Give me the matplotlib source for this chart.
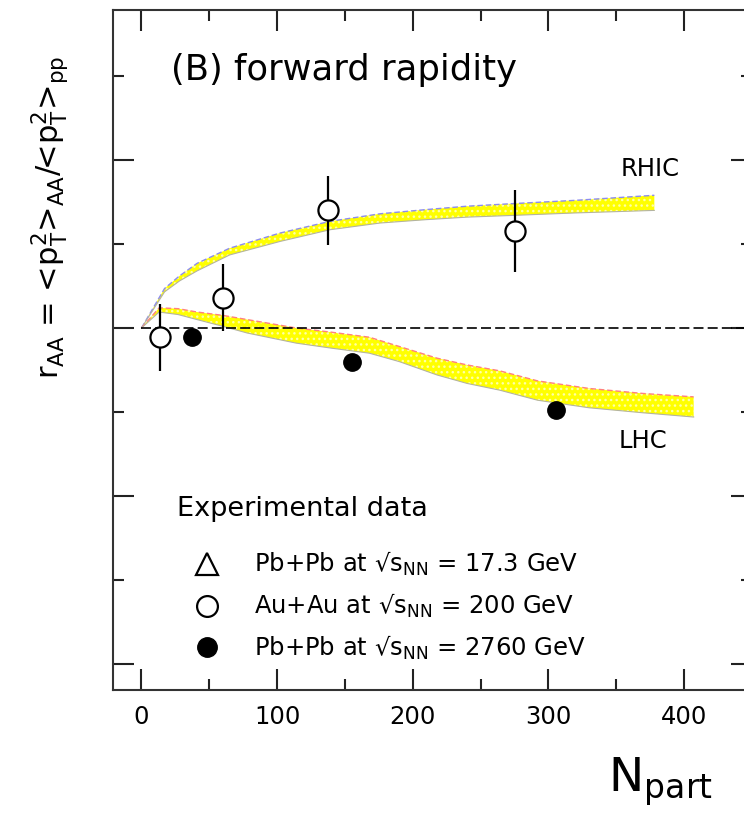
import matplotlib
matplotlib.use("Agg")
import matplotlib.pyplot as plt
from matplotlib.lines import Line2D
from matplotlib.ticker import MultipleLocator

plt.rcParams['font.family'] = ['DejaVu Sans']
plt.rcParams['mathtext.fontset'] = 'dejavusans'
plt.rcParams['hatch.linewidth'] = 1.0

# ---------------- data ----------------
# RHIC theory band
rhic_npart = [0, 17, 28, 41, 65, 102, 139, 176, 210, 240, 273, 320, 378]
rhic_upper = [1.0, 1.047, 1.062, 1.077, 1.095, 1.113, 1.127, 1.136, 1.141, 1.145, 1.148, 1.152, 1.158]
rhic_lower = [1.0, 1.043, 1.056, 1.068, 1.087, 1.103, 1.117, 1.125, 1.129, 1.132, 1.134, 1.137, 1.140]

# LHC theory band
lhc_npart = [0, 13, 27, 41, 60, 78, 96, 114, 140, 168, 190, 218, 240, 264, 292, 330, 370, 407]
lhc_upper = [1.0, 1.024, 1.023, 1.019, 1.015, 1.010, 1.005, 1.000, 0.995, 0.989, 0.978, 0.964,
             0.956, 0.949, 0.937, 0.928, 0.922, 0.918]
lhc_lower = [1.0, 1.019, 1.016, 1.010, 1.002, 0.994, 0.988, 0.982, 0.976, 0.970, 0.960, 0.944,
             0.934, 0.926, 0.914, 0.905, 0.899, 0.894]

# Au+Au 200 GeV (open circles)
auau_npart = [13.5, 60.3, 137.8, 275.2]
auau_raa = [0.989, 1.036, 1.140, 1.1155]
auau_err = [0.040, 0.040, 0.041, 0.049]

# Pb+Pb 2760 GeV (filled circles)
pbpb_npart = [36.9, 155.1, 305.2]
pbpb_raa = [0.989, 0.959, 0.902]

ref_level = 1.0
xticks_major = [0, 100, 200, 300, 400]
legend_labels = [
    r'Pb+Pb at √s$_{\mathregular{NN}}$ = 17.3 GeV',
    r'Au+Au at √s$_{\mathregular{NN}}$ = 200 GeV',
    r'Pb+Pb at √s$_{\mathregular{NN}}$ = 2760 GeV',
]

# ---------------- figure ----------------
W, H = 744, 819
fig = plt.figure(figsize=(W / 100, H / 100), dpi=100)
ax = fig.add_axes([113 / W, 1 - 690 / H, 639 / W, 680 / H])
ax.set_xlim(-21, 450)
ax.set_ylim(0.569, 1.3786)

# bands
for npart, lo, hi, edge in [(rhic_npart, rhic_lower, rhic_upper, '#8c8cf0'),
                            (lhc_npart, lhc_lower, lhc_upper, '#ff8080')]:
    ax.fill_between(npart, lo, hi, facecolor='#ffff00',
                    edgecolor='#ffffa8', hatch='...', linewidth=0, zorder=2)
    ax.plot(npart, hi, color=edge, lw=1.0, ls=(0, (4, 2)), zorder=3)
    ax.plot(npart, lo, color='#b4b4a0', lw=0.8, zorder=3)

# reference dashed line
ax.hlines(ref_level, 0, ax.get_xlim()[1], colors='black', linestyles=(0, (6, 2.5)),
          lw=1.2, zorder=4)

# data
ax.errorbar(auau_npart, auau_raa, yerr=auau_err, fmt='o', ms=14.5, mfc='white',
            mec='black', mew=1.6, ecolor='black', elinewidth=1.6, capsize=0, zorder=6)
ax.plot(pbpb_npart, pbpb_raa, 'o', ms=12.5, color='black', zorder=6)

# texts
ax.text(0.0908, 0.897, '(B) forward rapidity', transform=ax.transAxes,
        fontsize=25.5, va='baseline', ha='left')
ax.text(374.7, 1.189, 'RHIC', fontsize=17.5, ha='center', va='center')
ax.text(370, 0.865, 'LHC', fontsize=17.5, ha='center', va='center')

# legend
handles = [
    Line2D([], [], marker='^', ls='none', ms=16, mfc='white', mec='black', mew=1.6),
    Line2D([], [], marker='o', ls='none', ms=15, mfc='white', mec='black', mew=1.6),
    Line2D([], [], marker='o', ls='none', ms=14, mfc='black', mec='black'),
]
leg = ax.legend(handles, legend_labels, title='Experimental data',
                loc='upper left', bbox_to_anchor=(0.1002, 0.2846), frameon=False,
                fontsize=17.5, title_fontsize=19.5, alignment='left',
                handlelength=2.45, handletextpad=0.7, labelspacing=0.56,
                borderaxespad=0, borderpad=0)
leg._legend_box.sep = 20

# ticks
ax.set_xticks(xticks_major)
ax.xaxis.set_minor_locator(MultipleLocator(50))
ax.yaxis.set_major_locator(MultipleLocator(0.2))
ax.yaxis.set_minor_locator(MultipleLocator(0.1))
ax.tick_params(which='both', direction='in', top=True, right=True,
               width=1.5, color='#222222')
ax.tick_params(which='major', length=15)
ax.tick_params(which='minor', length=8)
ax.tick_params(axis='x', labelsize=17.5, pad=11)
ax.tick_params(axis='y', labelleft=False)
for s in ax.spines.values():
    s.set_linewidth(1.5)
    s.set_color('#333333')

# axis labels
fig.text(50 / W, 1 - 217 / H,
         r'r$_{\mathregular{AA}}$ = <p$_{\mathregular{T}}^{\mathregular{2}}$>$_{\mathregular{AA}}$'
         r'/<p$_{\mathregular{T}}^{\mathregular{2}}$>$_{\mathregular{pp}}$',
         rotation=90, fontsize=22, ha='center', va='center')
fig.text(608 / W, 1 - 782 / H, r'$\mathregular{N_{part}}$', fontsize=34,
         ha='left', va='center')

fig.savefig('out.png', dpi=100)
